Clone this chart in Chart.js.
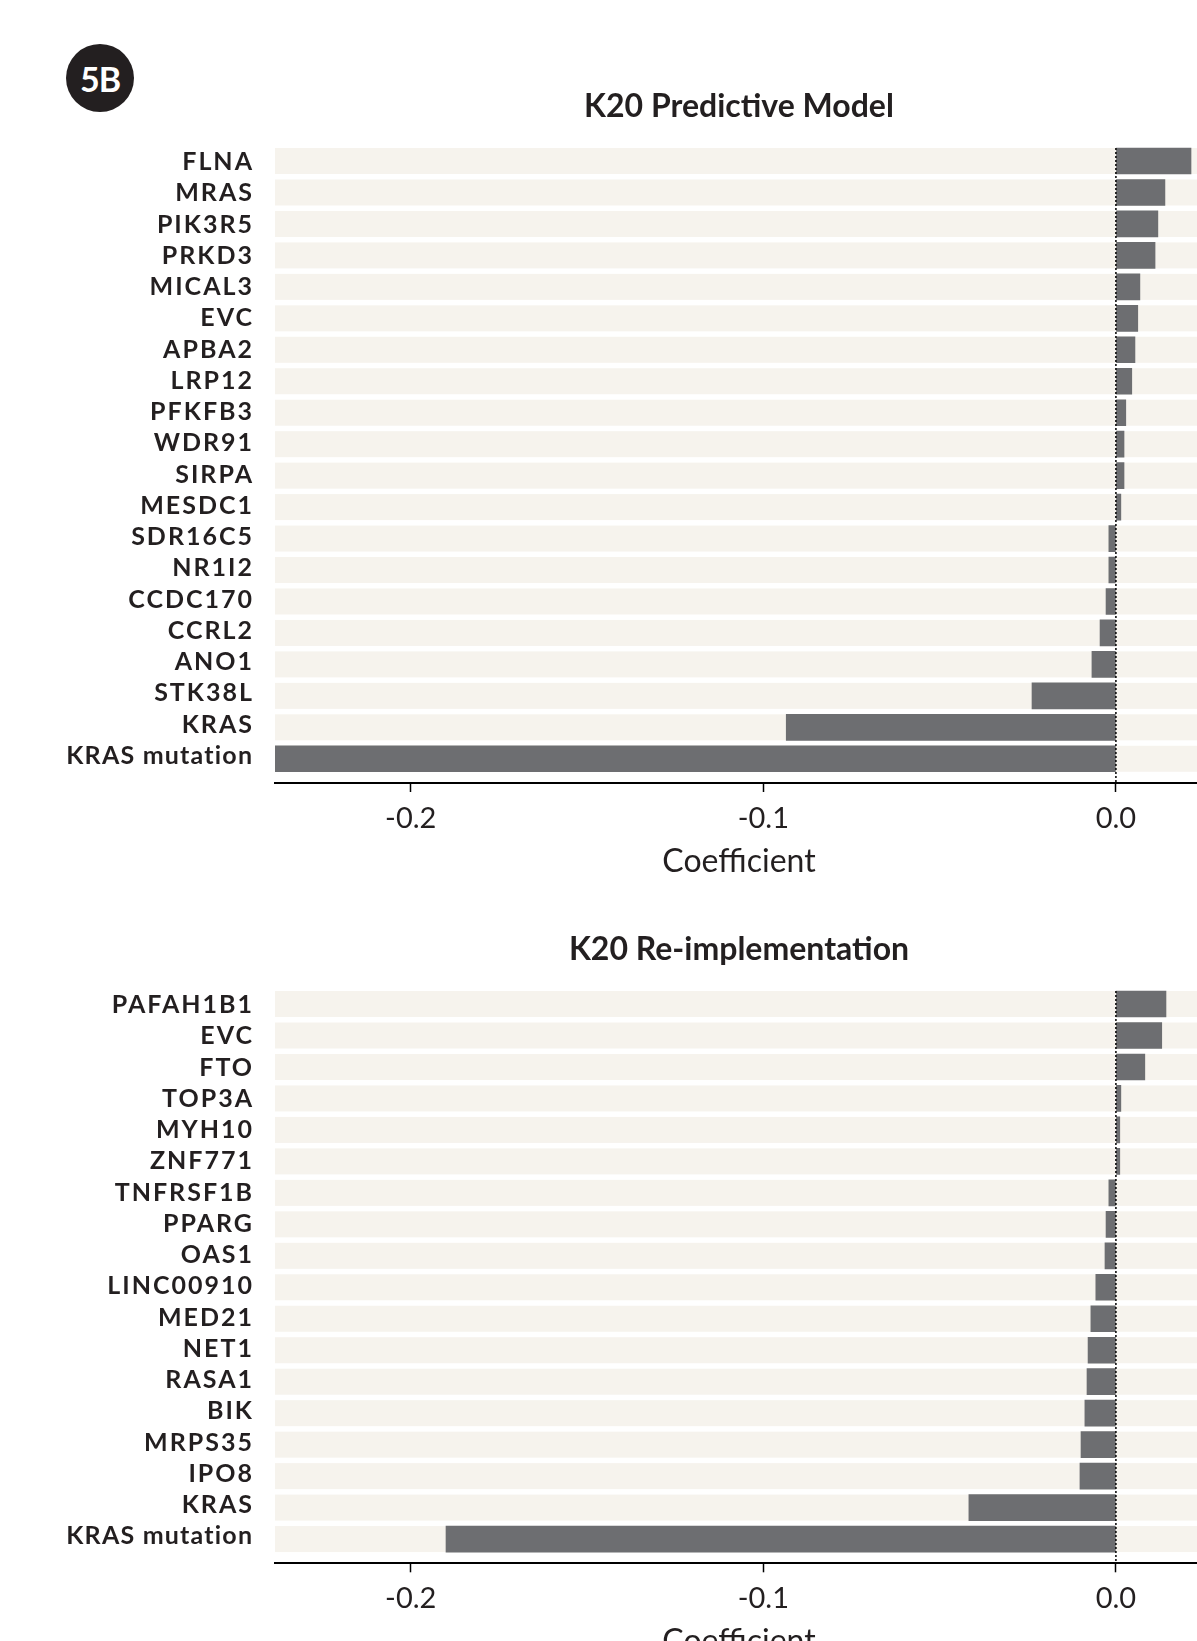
<!DOCTYPE html>
<html>
<head>
<meta charset="utf-8">
<script src="https://cdn.jsdelivr.net/npm/chart.js@4.4.1/dist/chart.umd.min.js"></script>
<style>
    html, body { margin: 0; padding: 0; background: #fff; overflow: hidden; }
    body { width: 1197px; height: 1641px; position: relative; font-family: Lato, sans-serif; }
    .badge {
        position: absolute; left: 66px; top: 44px; width: 68px; height: 68px;
        border-radius: 50%; background: #231f20; color: #fff;
        font: bold 34px Lato; letter-spacing: -1px;
        display: flex; align-items: center; justify-content: center;
    }
    canvas { position: absolute; left: 0; }
    #grafica-modelo { top: 0; }
    #grafica-reimpl { top: 890px; }
</style>
</head>
<body>
<div class="badge">5B</div>
<canvas id="grafica-modelo" width="1210" height="890"></canvas>
<canvas id="grafica-reimpl" width="1210" height="780"></canvas>
<script>
// K20 Predictive Model
const genesModelo = ['FLNA', 'MRAS', 'PIK3R5', 'PRKD3', 'MICAL3', 'EVC', 'APBA2', 'LRP12', 'PFKFB3', 'WDR91',
    'SIRPA', 'MESDC1', 'SDR16C5', 'NR1I2', 'CCDC170', 'CCRL2', 'ANO1', 'STK38L', 'KRAS', 'KRAS mutation'];
const coefModelo = [0.0213, 0.0139, 0.0119, 0.0111, 0.0068, 0.0062, 0.0054, 0.0045, 0.0028, 0.0023,
    0.0023, 0.0014, -0.0020, -0.0020, -0.0028, -0.0045, -0.0068, -0.0238, -0.0935, -0.2420];

// K20 Re-implementation
const genesReimpl = ['PAFAH1B1', 'EVC', 'FTO', 'TOP3A', 'MYH10', 'ZNF771', 'TNFRSF1B', 'PPARG', 'OAS1',
    'LINC00910', 'MED21', 'NET1', 'RASA1', 'BIK', 'MRPS35', 'IPO8', 'KRAS', 'KRAS mutation'];
const coefReimpl = [0.0142, 0.0130, 0.0082, 0.0014, 0.0011, 0.0011, -0.0020, -0.0028, -0.0031,
    -0.0057, -0.0071, -0.0079, -0.0082, -0.0088, -0.0099, -0.0102, -0.0417, -0.1900];

const xTicks = [-0.2, -0.1, 0.0];

(function() {
    const tinta = '#231f20';
    const colorBarra = '#6d6e71';
    const colorFranja = '#f6f3ed';
    const grosor = 26;

    // franjas de fondo, linea punteada en cero, nombres de genes y titulo del panel
    const panel = {
        id: 'panel',
        beforeDatasetsDraw(chart) {
            const {ctx, chartArea, scales: {y}} = chart;
            ctx.save();
            ctx.fillStyle = colorFranja;
            chart.data.labels.forEach((l, i) => {
                const py = y.getPixelForValue(i);
                ctx.fillRect(chartArea.left, py - grosor / 2, chartArea.right - chartArea.left, grosor);
            });
            ctx.restore();
        },
        afterDatasetsDraw(chart) {
            const {ctx, chartArea, scales: {x, y}} = chart;
            const x0 = x.getPixelForValue(0);
            ctx.save();
            ctx.strokeStyle = '#000';
            ctx.lineWidth = 1.5;
            ctx.setLineDash([2, 2]);
            ctx.beginPath();
            ctx.moveTo(x0, y.getPixelForValue(0) - grosor / 2);
            ctx.lineTo(x0, chartArea.bottom);
            ctx.stroke();
            ctx.restore();
        },
        afterDraw(chart, args, opts) {
            const {ctx, chartArea, scales: {y}} = chart;
            ctx.save();
            ctx.fillStyle = tinta;
            ctx.textAlign = 'right';
            ctx.textBaseline = 'alphabetic';
            ctx.font = 'bold 25px Lato';
            chart.data.labels.forEach((l, i) => {
                const sp = l.includes(' ') ? 1.2 : 2;
                ctx.letterSpacing = sp + 'px';
                // en el original las etiquetas van un poco mas juntas que las franjas
                ctx.fillText(l, chartArea.left - 23 + sp, y.getPixelForValue(i * 0.9933) + 9);
            });
            ctx.letterSpacing = '0px';
            ctx.textAlign = 'center';
            ctx.font = 'bold 32px Lato';
            ctx.fillText(opts.text, (chartArea.left + chartArea.right) / 2, opts.baseline);
            ctx.restore();
        }
    };

    function dibujar(id, genes, coef, titulo, baseTitulo, padTop, padBottom) {
        new Chart(document.getElementById(id), {
            type: 'bar',
            data: {
                labels: genes,
                datasets: [{
                    data: coef.map((v, i) => ({x: v, y: i})),
                    backgroundColor: colorBarra,
                    barThickness: grosor
                }]
            },
            options: {
                indexAxis: 'y',
                responsive: false,
                animation: false,
                layout: { padding: { top: padTop, bottom: padBottom, left: 0, right: 7 } },
                scales: {
                    x: {
                        type: 'linear',
                        min: -0.2385,
                        max: 0.0247,
                        afterBuildTicks: s => { s.ticks = xTicks.map(v => ({value: v})); },
                        afterFit: s => { s.height = 99; },
                        ticks: {
                            callback: v => v.toFixed(1),
                            color: tinta,
                            font: {family: 'Lato', size: 29},
                            padding: 9,
                            maxRotation: 0,
                            autoSkip: false
                        },
                        grid: { drawOnChartArea: false, tickLength: 9, tickWidth: 1.5, tickColor: '#000' },
                        border: { display: true, color: '#000', width: 2 },
                        title: {
                            display: true,
                            text: 'Coefficient',
                            color: tinta,
                            font: {family: 'Lato', size: 32},
                            padding: { top: 0, bottom: 1 }
                        }
                    },
                    y: {
                        type: 'linear',
                        reverse: true,
                        offset: false,
                        min: -0.5,
                        max: genes.length - 0.23,
                        afterFit: s => { s.width = 275; },
                        ticks: { display: false },
                        grid: { display: false, offset: false },
                        border: { display: false }
                    }
                },
                plugins: {
                    legend: { display: false },
                    tooltip: { enabled: false },
                    panel: { text: titulo, baseline: baseTitulo }
                }
            },
            plugins: [panel]
        });
    }

    dibujar('grafica-modelo', genesModelo, coefModelo, 'K20 Predictive Model', 117, 145.3, 8);
    dibujar('grafica-reimpl', genesReimpl, coefReimpl, 'K20 Re-implementation', 70, 98.3, 7.7);
})();
</script>
</body>
</html>
